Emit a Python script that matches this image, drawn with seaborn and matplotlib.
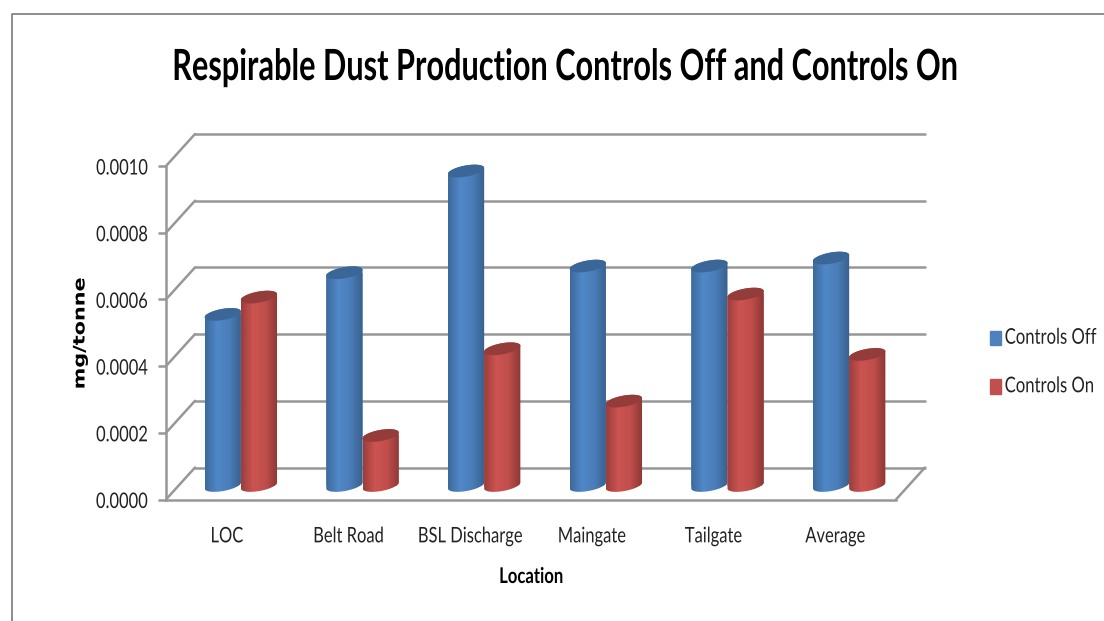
import numpy as np
import pandas as pd
import matplotlib
matplotlib.use("Agg")
import matplotlib.pyplot as plt
import matplotlib.patheffects as pe
import seaborn as sns
from matplotlib.colors import LinearSegmentedColormap
from matplotlib.lines import Line2D
from matplotlib.patches import Patch, Polygon
from matplotlib.transforms import Affine2D

locations = ["LOC", "Belt Road", "BSL Discharge", "Maingate", "Tailgate", "Average"]
controls_off = [0.000513, 0.000638, 0.000943, 0.000658, 0.000658, 0.000682]
controls_on = [0.000565, 0.00015, 0.00041, 0.000253, 0.000574, 0.000393]
y_ticks = [0.0, 0.0002, 0.0004, 0.0006, 0.0008, 0.0010]
series_names = ["Controls Off", "Controls On"]

GREY = "#979797"
W, H = 1104, 621
# front plane of the fake 3D box, in pixels
LEFT, RIGHT, TOP, BOTTOM = 166, 896, 166, 499.5
BELOW = 20  # room under the cylinders for the rounded base


class Stretch(pe.AbstractPathEffect):
    # the reference was stretched when it was saved, text looks condensed
    def __init__(self, sx=1.0, sy=1.0, dy=0):
        super().__init__()
        self.sx, self.sy, self.dy = sx, sy, dy

    def draw_path(self, renderer, gc, tpath, affine, rgbFace=None):
        tr = Affine2D().scale(self.sx, self.sy) + affine + Affine2D().translate(0, self.dy)
        renderer.draw_path(gc, tpath, tr, rgbFace)


tall = [Stretch(sy=1.3)]

sns.set_style("white")
plt.rcParams["font.family"] = ["Lato", "DejaVu Sans"]

df = pd.DataFrame({
    "Location": locations * 2,
    "value": controls_off + controls_on,
    "series": [series_names[0]] * 6 + [series_names[1]] * 6,
})

fig = plt.figure(figsize=(W / 100, H / 100), dpi=100, facecolor="white")
ax = fig.add_axes([LEFT / W, (H - BOTTOM) / H, (RIGHT - LEFT) / W, (BOTTOM - TOP) / H])
ax.set_xlim(-0.5, 5.5)
ax.set_ylim(0, 0.001)
# px to data
px_x = 6 / (RIGHT - LEFT)
px_y = 0.001 / (BOTTOM - TOP)

# walls and floor behind the bars
depth_x, depth_y = 29 * px_x, 32 * px_y
for t in y_ticks:
    ax.plot([-0.5, -0.5 + depth_x], [t, t + depth_y], color=GREY, lw=1.8, clip_on=False)
    ax.plot([-0.5 + depth_x, 5.5 + depth_x], [t + depth_y, t + depth_y], color=GREY, lw=1.8, clip_on=False)
ax.plot([5.5, 5.5 + depth_x], [0, depth_y], color=GREY, lw=1.8, clip_on=False)

ax.set_xticks(range(6))
ax.set_xticklabels(locations, fontsize=11.9, color="#222222")
ax.set_yticks(y_ticks)
ax.set_yticklabels([f"{t:.4f}" for t in y_ticks], fontsize=11.9, color="#222222")
ax.tick_params(axis="y", length=6, width=1.8, color=GREY, pad=7, left=True)
ax.tick_params(axis="x", length=0, pad=21.5)
ax.patch.set_alpha(0)
sns.despine(ax=ax, top=True, right=True)
for side in ["left", "bottom"]:
    ax.spines[side].set_color(GREY)
    ax.spines[side].set_linewidth(1.8)
for lab in ax.get_xticklabels():
    lab.set_path_effects(tall)
for lab in ax.get_yticklabels():
    lab.set_path_effects([Stretch(sy=1.3, dy=-2)])

# cylinders sit half way into the box
ax_bars = fig.add_axes([(LEFT + 14) / W, (H - BOTTOM + 14 - BELOW) / H,
                        (RIGHT - LEFT) / W, (BOTTOM - TOP + BELOW) / H])
ax_bars.patch.set_alpha(0)
sns.barplot(data=df, x="Location", y="value", hue="series", order=locations,
            palette=["#4f86c6", "#c9514f"], width=0.595, gap=0, legend=False,
            saturation=1, ax=ax_bars)

shades = [
    (["#3d6a9c", "#5088c8", "#4a7db8", "#38608d"], "#3b6798"),
    (["#9c3e3c", "#cc5451", "#c04e4b", "#8c3735"], "#943c3a"),
]
ang = np.linspace(0, 2 * np.pi, 80)
lower = np.linspace(np.pi, 2 * np.pi, 40)
upper = np.linspace(0, np.pi, 40)
z = 3
for container, (stops, lid) in zip(ax_bars.containers, shades):
    cmap = LinearSegmentedColormap.from_list("cyl", stops)
    for bar in container:
        x0, w, h = bar.get_x(), bar.get_width(), bar.get_height()
        cx = x0 + w / 2


        def rim(t, cy):
            return np.column_stack([
                cx + w / 2 * np.cos(t),
                cy + (5.6 * np.sin(t) + 3 * np.cos(t)) * px_y,
            ])

        outline = Polygon(np.vstack([rim(lower, 0), rim(upper, h)]), closed=True,
                          transform=ax_bars.transData)
        bar.set_zorder(z)
        bar.set_linewidth(0)
        bar.set_clip_path(outline)
        img = ax_bars.imshow(np.linspace(0, 1, 64).reshape(1, -1), cmap=cmap, aspect="auto",
                             extent=[x0, x0 + w, -12 * px_y, h + 12 * px_y], zorder=z + 0.1)
        img.set_clip_path(outline)
        ax_bars.add_patch(Polygon(rim(ang, h), closed=True, facecolor=lid, edgecolor="none",
                                  zorder=z + 0.2, clip_on=False))
    z += 1

ax_bars.set_xlim(-0.5, 5.5)
ax_bars.set_ylim(-BELOW * px_y, 0.001)
ax_bars.set_axis_off()

title = fig.text(564 / W, 1 - 80 / H, "Respirable Dust Production Controls Off and Controls On",
                 fontsize=22.1, fontweight="bold", color="black", ha="center", va="baseline")
title.set_path_effects([Stretch(sy=1.4)])
xlab = fig.text(531 / W, 1 - 583 / H, "Location", fontsize=12, fontweight="bold", color="black",
                ha="center", va="baseline")
xlab.set_path_effects(tall)
ylab = fig.text(80 / W, 1 - 346 / H, "mg/tonne", fontsize=11.5, fontweight="bold", color="black",
                rotation=90, ha="center", va="center", family="DejaVu Sans")
ylab.set_path_effects([Stretch(sx=1.3)])

handles = [Patch(color="#4f81bd"), Patch(color="#c0504d")]
leg = fig.legend(handles, series_names, loc="center left", bbox_to_anchor=(990 / W, 1 - 363 / H),
                 frameon=False, fontsize=12, handlelength=0.68, handleheight=0.95,
                 handletextpad=0.2, labelspacing=1.95, labelcolor="#222222", borderpad=0,
                 borderaxespad=0)
for lab in leg.get_texts():
    lab.set_path_effects(tall)

# outer chart border, cut off at the right and the bottom
fig.add_artist(Line2D([12 / W, 12 / W, 1], [0, 1 - 14 / H, 1 - 14 / H], color="#8c8c8c", lw=1.4))

fig.savefig("out.png", dpi=100)
